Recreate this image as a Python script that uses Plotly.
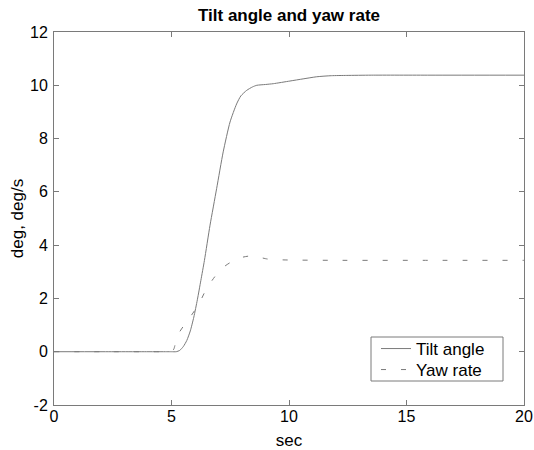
import plotly.graph_objects as go

# Data
tilt_t = [0, 2, 4, 4.8, 5.0, 5.2, 5.35, 5.5, 5.65, 5.8, 5.95, 6.1, 6.25, 6.4, 6.64, 6.92, 7.2,
          7.49, 7.77, 7.95, 8.2, 8.45, 8.63, 9.0, 9.33, 10.04, 10.6, 11.18, 11.8, 12.46, 13.5, 16, 20]
tilt_y = [0, 0, 0, 0, 0, 0, 0.05, 0.19, 0.42, 0.78, 1.3, 1.95, 2.68, 3.42, 4.75, 6.12, 7.5,
          8.62, 9.3, 9.6, 9.81, 9.94, 10.0, 10.03, 10.06, 10.16, 10.24, 10.32, 10.36, 10.37, 10.38, 10.38, 10.38]

yaw_t = [0, 2, 4, 4.6, 4.85, 5.0, 5.1, 5.25, 5.5, 5.72, 6.14, 6.5, 6.95, 7.25, 7.56, 7.9, 8.31, 8.7,
         9.08, 9.6, 10.16, 12, 16, 20]
yaw_y = [0, 0, 0, 0, 0, 0, 0.1, 0.6, 0.95, 1.21, 1.75, 2.38, 2.94, 3.2, 3.38, 3.52, 3.59, 3.55,
         3.48, 3.45, 3.44, 3.43, 3.43, 3.43]

x_ticks = [0, 5, 10, 15, 20]
y_ticks = [-2, 0, 2, 4, 6, 8, 10, 12]

FONT = "Liberation Sans, Arial, sans-serif"
AX = "#7a7a7a"
LINE = "#7a7a7a"

W, H = 534, 450
ML, MR, MT, MB = 54, 10, 32, 45
PW, PH = W - ML - MR, H - MT - MB


def px_x(px):
    return (px - ML) / PW


def px_y(py):
    return (H - MB - py) / PH


fig = go.Figure()
fig.add_trace(go.Scatter(x=tilt_t, y=tilt_y, mode="lines", name="Tilt angle", legend="legend",
                         line=dict(color=LINE, width=1, shape="spline", smoothing=0.6)))
fig.add_trace(go.Scatter(x=yaw_t, y=yaw_y, mode="lines", name="Yaw rate", legend="legend2",
                         line=dict(color=LINE, width=1, dash="5px,15px",
                                   shape="spline", smoothing=0.6)))

axis_common = dict(showgrid=False, zeroline=False, showline=True, linecolor=AX, linewidth=1,
                   mirror="ticks", ticks="inside", ticklen=5, tickcolor=AX, tickwidth=1,
                   automargin=False,
                   tickfont=dict(family=FONT, size=16, color="black"))

fig.update_xaxes(range=[0, 20], tickvals=x_ticks, ticktext=[str(v) for v in x_ticks],
                 ticklabelstandoff=-3,
                 title=dict(text="sec", font=dict(family=FONT, size=17, color="black"), standoff=10),
                 **axis_common)
fig.update_yaxes(range=[-2, 12], tickvals=y_ticks, ticktext=[str(v) for v in y_ticks],
                 ticklabelstandoff=2,
                 title=dict(text="deg, deg/s", font=dict(family=FONT, size=17, color="black"), standoff=2),
                 **axis_common)

# legend frame
fig.add_shape(type="rect", xref="paper", yref="paper",
              x0=px_x(371), x1=px_x(503), y0=px_y(381), y1=px_y(337),
              line=dict(color=AX, width=1), fillcolor="white", layer="above")

leg_common = dict(xanchor="left", yanchor="middle", bgcolor="rgba(0,0,0,0)", borderwidth=0,
                  font=dict(family=FONT, size=17, color="black"))

fig.update_layout(
    width=W, height=H,
    template="none",
    margin=dict(l=ML, r=MR, t=MT, b=MB),
    paper_bgcolor="white", plot_bgcolor="white",
    title=dict(text="<b>Tilt angle and yaw rate</b>", x=0.5, xref="paper", xanchor="center",
               y=1 - 15 / H, yanchor="middle",
               font=dict(family=FONT, size=17, color="black")),
    legend=dict(x=px_x(376), y=px_y(349), **leg_common),
    legend2=dict(x=px_x(376), y=px_y(370), **leg_common),
    showlegend=True,
)

fig.write_html("out.html", config={"displayModeBar": False},
               post_script="document.body.style.margin='0';")
